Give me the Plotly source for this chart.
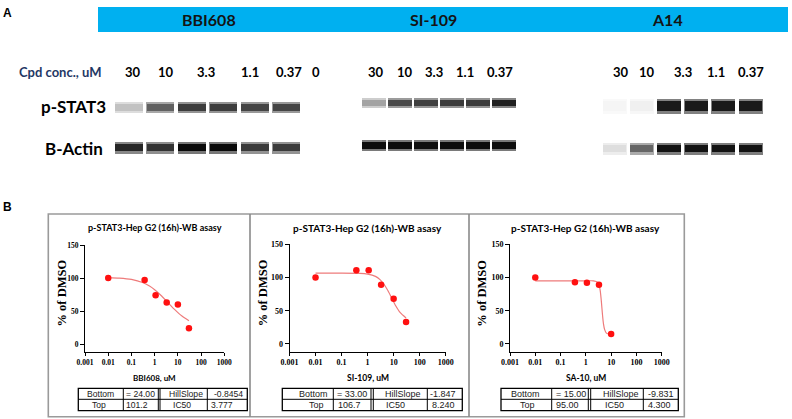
import plotly.graph_objects as go

W, H = 792, 419

# ---------------- DATA ----------------
compounds = ["BBI608", "SI-109", "A14"]
lanes = [0, 1, 2, 3, 4, 5]
conc_bbi608 = ["30", "10", "3.3", "1.1", "0.37", "0"]
conc_si109 = ["30", "10", "3.3", "1.1", "0.37"]
conc_a14 = ["30", "10", "3.3", "1.1", "0.37"]

# band darkness (0 = no signal, 1 = black)
pstat3_bbi608 = [0.24, 0.62, 0.76, 0.76, 0.73, 0.73]
actin_bbi608 = [0.85, 0.80, 0.96, 0.96, 0.77, 0.77]
pstat3_si109 = [0.36, 0.71, 0.75, 0.77, 0.77, 0.87]
actin_si109 = [0.95, 0.95, 0.94, 0.95, 0.95, 0.95]
pstat3_a14 = [0.04, 0.06, 0.90, 0.90, 0.90, 0.90]
actin_a14 = [0.13, 0.60, 0.93, 0.93, 0.93, 0.93]

# dose-response points (% of DMSO)
bbi_x = [0.01, 0.37, 1.1, 3.3, 10, 30]
bbi_y = [100, 97, 74, 63, 60, 24]
si_x = [0.01, 0.37, 1.1, 3.3, 10, 30]
si_y = [100, 111, 111, 89, 68, 33]
a14_x = [0.01, 0.37, 1.1, 3.3, 10]
a14_y = [100, 93, 92, 89, 15]

# fitted curves
bbi_fit_x = [0.01, 0.03, 0.1, 0.3, 0.6, 1, 2, 3.777, 7, 15, 30]
bbi_fit_y = [100.7, 99.9, 97.8, 93.1, 87.8, 82.3, 72.7, 62.6, 52.8, 42.3, 35.4]
si_fit_x = [0.01, 0.1, 0.5, 1, 2, 3, 4, 6, 8.24, 12, 18, 30]
si_fit_y = [106.7, 106.7, 106.3, 105.2, 101.7, 96.8, 91.4, 80.4, 69.9, 57.6, 47.1, 39.2]
a14_fit_x = [0.01, 0.1, 1, 2, 3, 3.3, 3.7, 4.0, 4.3, 4.6, 5.0, 5.5, 6.5, 8, 10]
a14_fit_y = [95.0, 95.0, 95.0, 95.0, 92.7, 89.5, 80.2, 68.7, 55.0, 42.2, 29.8, 22.0, 16.4, 15.1, 15.0]

x_titles = ["BBI608, uM", "SI-109, uM", "SA-10, uM"]
panel_title = "p-STAT3-Hep G2 (16h)-WB asasy"
x_tickvals = [0.001, 0.01, 0.1, 1, 10, 100, 1000]
x_ticktext = ["0.001", "0.01", "0.1", "1", "10", "100", "1000"]
y_tickvals = [0, 50, 100, 150]

tbl_bottom = ["= 24.00", "= 33.00", "= 15.00"]
tbl_top = ["101.2", "106.7", "95.00"]
tbl_hill = ["-0.8454", "-1.847", "-9.831"]
tbl_ic50 = ["3.777", "8.240", "4.300"]

# ---------------- helpers ----------------
def px(x):
    return x / W

def py(y):
    return 1 - y / H

def gray(d):
    v = int(round(255 * (1 - d)))
    return f"rgb({v},{v},{v})"

fig = go.Figure()
layout = dict(
    template="none",
    width=W, height=H, autosize=False,
    margin=dict(l=0, r=0, t=0, b=0, pad=0, autoexpand=False),
    paper_bgcolor="white", plot_bgcolor="rgba(0,0,0,0)",
    showlegend=False, barmode="overlay", bargap=0,
)
annotations = []
shapes = []

def ann(x, y, text, size, family="Lato", color="black", xanchor="center",
        angle=0, yanchor="middle"):
    annotations.append(dict(
        x=px(x), y=py(y), xref="paper", yref="paper", text=text,
        showarrow=False, xanchor=xanchor, yanchor=yanchor, textangle=angle,
        font=dict(size=size, family=family, color=color)))

# ---------------- PART A: blots ----------------
ann(7, 13, "<b>A</b>", 12, family="Liberation Sans")
shapes.append(dict(type="rect", xref="paper", yref="paper",
                   x0=px(98), x1=px(788), y0=py(32), y1=py(7),
                   fillcolor="#00B0F0", line=dict(width=0), layer="below"))
for name, cx in zip(compounds, [209, 433, 667]):
    ann(cx, 20, f"<b>{name}</b>", 16, color="#141414")

ann(60.5, 72, "<b>Cpd conc., uM</b>", 13, color="#1F3864")
for labels, xs in [(conc_bbi608, [132.5, 165.8, 205.5, 250, 288.5, 316.2]),
                   (conc_si109, [376, 404.5, 434, 465, 499.7]),
                   (conc_a14, [620.8, 647.2, 682.5, 715.8, 751.2])]:
    for t, x in zip(labels, xs):
        ann(x, 72, f"<b>{t}</b>", 13)
ann(73.5, 107, "<b>p-STAT3</b>", 17)
ann(73.5, 149, "<b>B-Actin</b>", 17)

blots = [
    dict(p=pstat3_bbi608, a=actin_bbi608, dom=(112.55, 301.55), bw=0.9,
         prow=(102, 10.7), arow=(142, 11.7)),
    dict(p=pstat3_si109, a=actin_si109, dom=(361.3, 517.3), bw=0.92,
         prow=(98, 10.2), arow=(139.7, 11.6)),
    dict(p=pstat3_a14, a=actin_a14, dom=(600.7, 763.9), bw=0.88,
         prow=(98.5, 15.5), arow=(143, 11.7)),
]
for i, b in enumerate(blots):
    k = i + 1
    xa = "x" if k == 1 else f"x{k}"
    ya = "y" if k == 1 else f"y{k}"
    for vals, (top, h) in [(b["p"], b["prow"]), (b["a"], b["arow"])]:
        fig.add_trace(go.Bar(x=lanes, y=[h] * len(lanes), base=top, width=b["bw"],
                             marker=dict(color=[gray(0.55 * d) for d in vals], line=dict(width=0)),
                             xaxis=xa, yaxis=ya, hoverinfo="skip"))
        fig.add_trace(go.Bar(x=lanes, y=[h * 0.62] * len(lanes), base=top + h * 0.19,
                             width=b["bw"] * 0.97,
                             marker=dict(color=[gray(d) for d in vals], line=dict(width=0)),
                             xaxis=xa, yaxis=ya, hoverinfo="skip"))
    axkey = "xaxis" if k == 1 else f"xaxis{k}"
    aykey = "yaxis" if k == 1 else f"yaxis{k}"
    layout[axkey] = dict(domain=[px(b["dom"][0]), px(b["dom"][1])], range=[-0.5, 5.5],
                         visible=False, anchor=ya, automargin=False)
    layout[aykey] = dict(domain=[py(160), py(85)], range=[160, 85],
                         visible=False, anchor=xa, automargin=False)

# ---------------- PART B: dose response ----------------
ann(7, 207, "<b>B</b>", 12, family="Liberation Sans")
shapes.append(dict(type="rect", xref="paper", yref="paper",
                   x0=px(48.3), x1=px(684.3), y0=py(416.7), y1=py(214),
                   line=dict(color="#9a9a9a", width=1.6)))
for xv in [250, 469]:
    shapes.append(dict(type="line", xref="paper", yref="paper",
                       x0=px(xv), x1=px(xv), y0=py(416.7), y1=py(214),
                       line=dict(color="#8a8a8a", width=1.6)))

panels = [
    dict(pts=(bbi_x, bbi_y), fit=(bbi_fit_x, bbi_fit_y), xd=(85, 224.3),
         yd=(352, 245), yr=[-12.1, 150], fs=7.5, tfs=9, ytx=61.5, cx=154.6, tbs=8.6,
         tbl=(78.3, 123.3, 158.3, 160, 207.3, 247.3),
         tx=[(100, 98.5), (140, 137.3), (186, 181.5), (228.5, 221.7)]),
    dict(pts=(si_x, si_y), fit=(si_fit_x, si_fit_y), xd=(289.5, 445.7),
         yd=(351.7, 244.3), yr=[-11.6, 150], fs=8, tfs=10, ytx=263.3, cx=367.6, tbs=9,
         tbl=(282.3, 333.3, 371, 373.3, 427.3, 462.3),
         tx=[(313, 316), (351.7, 349.2), (403.3, 395.8), (443.3, 443.3)]),
    dict(pts=(a14_x, a14_y), fit=(a14_fit_x, a14_fit_y), xd=(510, 661.7),
         yd=(351.7, 244.3), yr=[-11.6, 150], fs=8, tfs=10, ytx=481.7, cx=585.8, tbs=9,
         tbl=(501, 551.7, 588.3, 590.7, 643.3, 678.3),
         tx=[(525, 527), (570.8, 567.2), (620.5, 614), (661.2, 659.2)]),
]
for i, p in enumerate(panels):
    k = i + 4
    xa, ya = f"x{k}", f"y{k}"
    fig.add_trace(go.Scatter(x=p["fit"][0], y=p["fit"][1], mode="lines",
                             line=dict(color="#EE7B7B", width=1.2, shape="spline", smoothing=0.6),
                             xaxis=xa, yaxis=ya, hoverinfo="skip"))
    fig.add_trace(go.Scatter(x=p["pts"][0], y=p["pts"][1], mode="markers",
                             marker=dict(color="#FF1010", size=6.5, line=dict(width=0)),
                             xaxis=xa, yaxis=ya, hoverinfo="skip"))
    tickfont = dict(family="Liberation Serif", size=p["fs"], color="black", weight="bold")
    layout[f"xaxis{k}"] = dict(
        domain=[px(p["xd"][0]), px(p["xd"][1])], type="log", range=[-3, 3],
        tickvals=x_tickvals, ticktext=x_ticktext, ticks="outside", ticklen=3,
        tickwidth=1, tickcolor="black", showline=True, linecolor="black", linewidth=1,
        showgrid=False, zeroline=False, tickfont=tickfont, anchor=ya, automargin=False)
    layout[f"yaxis{k}"] = dict(
        domain=[py(p["yd"][0]), py(p["yd"][1])], range=p["yr"],
        tickvals=y_tickvals, ticks="outside", ticklen=4, tickwidth=1, tickcolor="black",
        showline=True, linecolor="black", linewidth=1, showgrid=False, zeroline=False,
        tickfont=tickfont, anchor=xa, automargin=False)
    # titles
    ann(p["cx"], 227.7, f"<b>{panel_title}</b>", p["tfs"])
    ann(p["ytx"], 293, "<b>% of DMSO</b>", 12.5, family="Liberation Serif", angle=-90)
    ann(p["cx"], 377.5, f"<b>{x_titles[i]}</b>", p["fs"] + 0.5)
    # table
    l, c1, c2a, c2b, c3, r = p["tbl"]
    t0, tm, t1 = 388.3, 399.3, 410.7
    shapes.append(dict(type="rect", xref="paper", yref="paper", x0=px(l), x1=px(r),
                       y0=py(t1), y1=py(t0), line=dict(color="black", width=1.3)))
    shapes.append(dict(type="line", xref="paper", yref="paper", x0=px(l), x1=px(r),
                       y0=py(tm), y1=py(tm), line=dict(color="black", width=1)))
    for xv in [c1, c2a, c2b, c3]:
        shapes.append(dict(type="line", xref="paper", yref="paper", x0=px(xv), x1=px(xv),
                           y0=py(t1), y1=py(t0), line=dict(color="black", width=1)))
    cells = [("Bottom", "Top"), (tbl_bottom[i], tbl_top[i]),
             ("HillSlope", "IC50"), (tbl_hill[i], tbl_ic50[i])]
    for (r1, r2), (x1, x2) in zip(cells, p["tx"]):
        ann(x1, 394, r1, p["tbs"], family="Liberation Sans", color="#1a1a1a")
        ann(x2, 405.3, r2, p["tbs"], family="Liberation Sans", color="#1a1a1a")

layout["annotations"] = annotations
layout["shapes"] = shapes
fig.update_layout(**layout)
fig.write_html("out.html", config={"displayModeBar": False},
               post_script="document.body.style.margin='0';document.body.style.padding='0';")
